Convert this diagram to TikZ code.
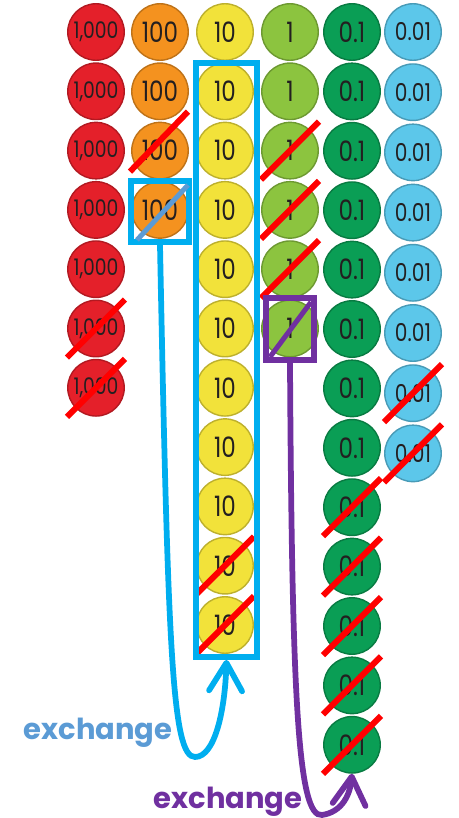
\documentclass[tikz,border=0pt]{standalone}
\usepackage{fontspec}
\setmainfont{Poppins}
\newfontfamily\diskfont{Poppins}[FakeStretch=0.82]
\usetikzlibrary{arrows.meta}
\definecolor{thousand}{HTML}{E4202A}
\definecolor{hundred}{HTML}{F4921F}
\definecolor{ten}{HTML}{F2E23A}
\definecolor{one}{HTML}{8CC43F}
\definecolor{tenth}{HTML}{0A9E55}
\definecolor{hundredth}{HTML}{5CC7EA}
\definecolor{inkdark}{HTML}{231F20}
\definecolor{xchcyan}{HTML}{00AEEF}
\definecolor{xchsteel}{HTML}{5B9BD5}
\definecolor{xchviolet}{HTML}{7030A0}
\tikzset{
  disk/.style={circle, minimum size=1.13cm, inner sep=0pt, line width=0.8pt,
    fill=#1, draw=#1!78!black, text=inkdark},
  strike/.style={draw=red, line width=0.12cm},
  framebox/.style={draw=#1, line width=0.12cm, inner sep=0pt},
  swap/.style={draw=#1, line width=0.115cm, line cap=round,
    -{Straight Barb[length=0.56cm, width=0.66cm, round]}},
  word/.style={font=\bfseries\fontsize{16.5}{16.5}\selectfont, text=#1, inner sep=0pt}
}
\begin{document}
\begin{tikzpicture}[x=0.02cm, y=-0.02cm]
  \useasboundingbox (0,0) rectangle (458,818);
  % discs, one column per place value
  \foreach \i in {1,...,7}
    \node[disk=thousand, font=\diskfont\fontsize{13}{13}\selectfont] (th\i) at (96,32+59.3*\i-59.3) {1,000};
  \foreach \i in {1,...,4}
    \node[disk=hundred, font=\diskfont\fontsize{16}{16}\selectfont] (hu\i) at (160,32+59.3*\i-59.3) {100};
  \foreach \i in {1,...,11}
    \node[disk=ten, font=\diskfont\fontsize{16}{16}\selectfont] (te\i) at (225,32+59.3*\i-59.3) {10};
  \foreach \i in {1,...,6}
    \node[disk=one, font=\diskfont\fontsize{16}{16}\selectfont] (on\i) at (290,32+59.3*\i-59.3) {1};
  \foreach \i in {1,...,13}
    \node[disk=tenth, font=\diskfont\fontsize{16}{16}\selectfont] (tn\i) at (352,32+59.4*\i-59.4) {0.1};
  \foreach \i in {1,...,8}
    \node[disk=hundredth, font=\diskfont\fontsize{14}{14}\selectfont] (hd\i) at (413,32+60.2*\i-60.2) {0.01};
  % crossed out discs
  \foreach \n in {th6,th7,on3,on4,on5,te10,te11,tn9,tn10,tn11,tn12,tn13,hd7,hd8}
    \draw[strike] ([shift={(-29,29)}]\n.center) -- ([shift={(29,-29)}]\n.center);
  \draw[strike] ([shift={(-30,21)}]hu3.center) -- ([shift={(28,-39)}]hu3.center);
  % boxes
  \node[framebox=xchcyan, minimum width=1.22cm, minimum height=11.88cm] (tenbox) at (226.5,360) {};
  \node[framebox=xchcyan, minimum width=1.16cm, minimum height=1.22cm] (hubox) at (160,211.5) {};
  \node[framebox=xchviolet, minimum width=0.96cm, minimum height=1.24cm] (onbox) at (290,329) {};
  \draw[xchsteel, line width=0.1cm] ([shift={(9,-5)}]hubox.south west) -- ([shift={(-4,7)}]hubox.north east);
  \draw[xchviolet, line width=0.1cm] ([shift={(7,-6)}]onbox.south west) -- ([shift={(-6,7)}]onbox.north east);
  % exchange arrows
  \draw[swap=xchcyan] (hubox.south) .. controls (168,650) and (172,757) .. (195,757)
    .. controls (215,757) and (225,710) .. (tenbox.south);
  \draw[swap=xchviolet] (onbox.south) .. controls (292,700) and (298,818) .. (322,815)
    .. controls (342,812) and (350,795) .. (tn13.south);
  \node[word=xchsteel] (bluelabel) at (98,733) {exchange};
  \node[word=xchviolet] (violetlabel) at (228,802) {exchange};
\end{tikzpicture}
\end{document}
